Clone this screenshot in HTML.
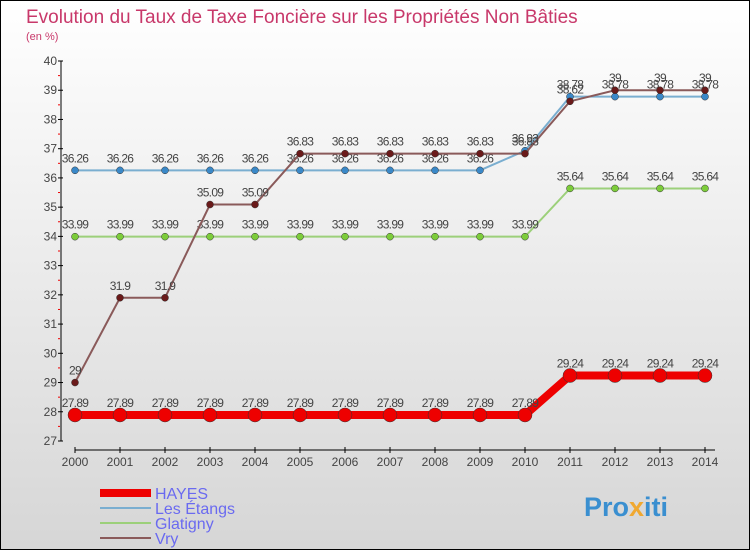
<!DOCTYPE html>
<html><head><meta charset="utf-8"><style>
body{margin:0}
svg{display:block;font-family:"Liberation Sans",sans-serif}
</style></head><body>
<svg id="c" width="750" height="550">
<defs><linearGradient id="bg" x1="0" y1="0" x2="0" y2="1"><stop offset="0" stop-color="#ffffff"/><stop offset="1" stop-color="#d6d6d6"/></linearGradient></defs>
<rect x="0.5" y="0.5" width="749" height="549" fill="url(#bg)" stroke="#000"/>
<text x="26" y="23" font-size="19" fill="#c8386a">Evolution du Taux de Taxe Foncière sur les Propriétés Non Bâties</text>
<text x="26" y="40" font-size="11" fill="#c8386a">(en %)</text>
<g id="axes"></g><g id="series"></g>
<g>
<line x1="100" y1="493" x2="151" y2="493" stroke="#e00" stroke-width="8"/>
<text x="155" y="499" font-size="16" fill="#6a6af0">HAYES</text>
<line x1="100" y1="508" x2="151" y2="508" stroke="#7aaed0" stroke-width="2"/>
<text x="155" y="514" font-size="16" fill="#6a6af0">Les Étangs</text>
<line x1="100" y1="523" x2="151" y2="523" stroke="#9cd07a" stroke-width="2"/>
<text x="155" y="529" font-size="16" fill="#6a6af0">Glatigny</text>
<line x1="100" y1="538" x2="151" y2="538" stroke="#8a5a5a" stroke-width="2"/>
<text x="155" y="544" font-size="16" fill="#6a6af0">Vry</text>
</g>
<text x="584" y="516" font-size="27" font-weight="bold" fill="#3a8fd0">Pro<tspan fill="#f0a830">x</tspan>iti</text>
</svg>
<script>
const years=[2000,2001,2002,2003,2004,2005,2006,2007,2008,2009,2010,2011,2012,2013,2014];
const hayes=[27.89,27.89,27.89,27.89,27.89,27.89,27.89,27.89,27.89,27.89,27.89,29.24,29.24,29.24,29.24];
const etangs=[36.26,36.26,36.26,36.26,36.26,36.26,36.26,36.26,36.26,36.26,36.93,38.78,38.78,38.78,38.78];
const glatigny=[33.99,33.99,33.99,33.99,33.99,33.99,33.99,33.99,33.99,33.99,33.99,35.64,35.64,35.64,35.64];
const vry=[29,31.9,31.9,35.09,35.09,36.83,36.83,36.83,36.83,36.83,36.83,38.62,39,39,39];
const yTicks=[27,28,29,30,31,32,33,34,35,36,37,38,39,40];
const NS='http://www.w3.org/2000/svg';
const X=i=>75+i*45;
const Y=v=>441-(v-27)*(380/13);
function mk(p,t,a){const e=document.createElementNS(NS,t);for(const k in a)e.setAttribute(k,a[k]);p.appendChild(e);return e;}
const ax=document.getElementById('axes');
let e=mk(ax,'line',{x1:61,y1:Y(40),x2:61,y2:Y(27),stroke:'#000','stroke-width':1});


yTicks.forEach(v=>{
 let t=mk(ax,'line',{x1:58,y1:Y(v),x2:63,y2:Y(v),stroke:'#000'});
 
 
 let l=mk(ax,'text',{x:57,y:Y(v)+4,'font-size':12,fill:'#444','text-anchor':'end'});
 l.textContent=v;
 
 
 if(v<40){let m=mk(ax,'line',{x1:58,y1:Y(v+0.5),x2:60,y2:Y(v+0.5),stroke:'#e00'});
 
 }
});
e=mk(ax,'line',{x1:X(0),y1:450,x2:X(years.length-1)+10,y2:450,stroke:'#000'});


years.forEach((y,i)=>{
 let t=mk(ax,'line',{x1:X(i),y1:447,x2:X(i),y2:453,stroke:'#000'});
 
 
 let l=mk(ax,'text',{x:X(i),y:466,'font-size':12,fill:'#444','text-anchor':'middle'});
 l.textContent=y;
 
 
});
const sg=document.getElementById('series');
function series(name,data,color,dot,w,r){
 const g=mk(sg,'g',{});
 
 
 let pl=mk(g,'polyline',{points:data.map((v,i)=>X(i)+','+Y(v)).join(' '),fill:'none',stroke:color,'stroke-width':w});
 
 
 data.forEach((v,i)=>{
  let c=mk(g,'circle',{cx:X(i),cy:Y(v),r:r,fill:dot,stroke:'#333','stroke-width':0.5});
  
  
  let l=mk(g,'text',{x:X(i),y:Y(v)-8,'font-size':12,fill:'#444','text-anchor':'middle','letter-spacing':'-0.7'});
  l.textContent=v;
  
  
 });
}
series('glatigny',glatigny,'#9cd07a','#7ccc3a',2,3.5);
series('les-etangs',etangs,'#7aaed0','#3a88c8',2,3.5);
series('vry',vry,'#8a5a5a','#6a1a1a',2,3.5);
series('hayes',hayes,'#e00','#e00',8,7);
</script>
</body></html>
